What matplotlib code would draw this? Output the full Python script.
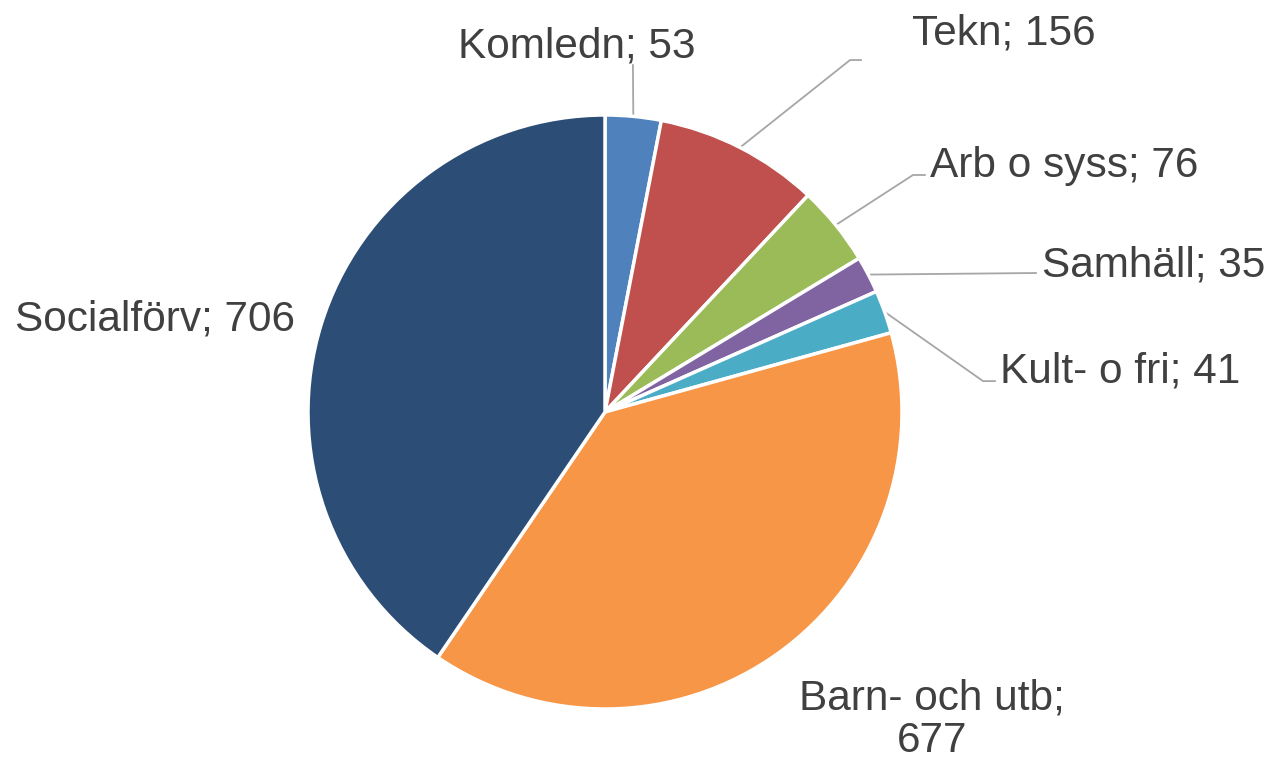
import numpy as np
import matplotlib.pyplot as plt

plt.rcParams['font.family'] = ['Liberation Sans', 'DejaVu Sans']

# data
names = ['Komledn', 'Tekn', 'Arb o syss', 'Samhäll', 'Kult- o fri', 'Barn- och utb', 'Socialförv']
values = [53, 156, 76, 35, 41, 677, 706]
colors = ['#4F81BD', '#C0504D', '#9BBB59', '#8064A2', '#4BACC6', '#F79646', '#2C4D75']

# label layout (data units, pie radius = 1): text anchor, alignment, leader elbow / end
label_pos = [(-0.094, 1.195), (1.034, 1.236), (1.094, 0.791), (1.471, 0.455),
             (1.330, 0.098), (1.101, -1.145), (-1.044, 0.276)]
label_ha = ['center', 'left', 'left', 'left', 'left', 'center', 'right']
leaders = [[(0.094, 1.168)],
           [(0.825, 1.185), (0.862, 1.185)],
           [(1.037, 0.798), (1.077, 0.798)],
           [(1.451, 0.468)],
           [(1.273, 0.104), (1.313, 0.104)],
           None, None]

fig = plt.figure(figsize=(12.7, 7.6), dpi=100)
ax = fig.add_axes([0, 0, 1, 1])

wedges, _ = ax.pie(values, colors=colors, startangle=90, counterclock=False,
                   radius=1.0, wedgeprops=dict(edgecolor='white', linewidth=2.5))

total = sum(values)
cum = np.cumsum([0] + values)
for i, name in enumerate(names):
    mid = 90 - (cum[i] + values[i] / 2) / total * 360
    a = np.radians(mid)
    if leaders[i] is not None:
        pts = [(np.cos(a), np.sin(a))] + leaders[i]
        xs, ys = zip(*pts)
        ax.plot(xs, ys, color='#A6A6A6', lw=1.3, zorder=0)
    if name == 'Barn- och utb':
        txt = f'{name};\n{values[i]}'
    else:
        txt = f'{name}; {values[i]}'
    x, y = label_pos[i]
    ax.text(x, y, txt, ha=label_ha[i], va='baseline', fontsize=30.5,
            color='#404040', linespacing=1.08, multialignment='center')

ax.set_xlim(-605 / 297, 665 / 297)
ax.set_ylim(-348 / 297, 412 / 297)
ax.set_aspect('equal')
ax.axis('off')

fig.savefig('out.png', dpi=100)
